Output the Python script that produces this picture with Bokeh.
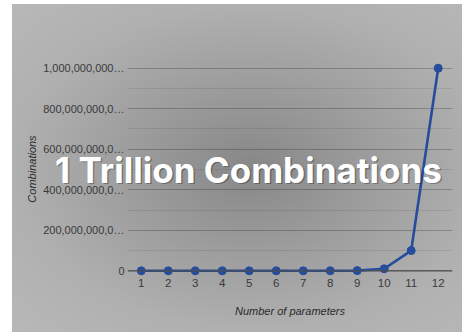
from bokeh.plotting import figure
from bokeh.layouts import row
from bokeh.models import (Range1d, FixedTicker, Span, Label, InlineStyleSheet)
from bokeh.embed import file_html
from bokeh.resources import INLINE

# Number of parameters vs. number of combinations (10 values per parameter)
parameters = [1, 2, 3, 4, 5, 6, 7, 8, 9, 10, 11, 12]
combinations = [10, 100, 1000, 10000, 100000, 1000000, 10000000, 100000000,
                1000000000, 10000000000, 100000000000, 1000000000000]

y_ticks = [0, 200e9, 400e9, 600e9, 800e9, 1000e9]
y_minor = [100e9, 300e9, 500e9, 700e9, 900e9]
y_tick_labels = ["0", "200,000,000,0…", "400,000,000,0…", "600,000,000,0…",
                 "800,000,000,0…", "1,000,000,000…"]

headline = "1 Trillion Combinations"

W, H = 462, 334
LINE_COLOR = "#254d9c"
TEXT_COLOR = "#3a3a3a"
FONT = "Liberation Sans"

p = figure(width=W, height=H, output_backend="svg", toolbar_location=None,
           x_range=Range1d(0.49, 12.53), y_range=Range1d(-0.033e12, 1.038e12),
           min_border_left=127, min_border_right=10,
           min_border_top=60, min_border_bottom=57)

p.background_fill_color = None
p.border_fill_color = None
p.outline_line_color = None
p.stylesheets = [InlineStyleSheet(css=(
    ":host { background: radial-gradient(ellipse farthest-corner at 53% 50%, "
    "#878787 0%, #9c9c9c 35%, #b0b0b0 70%, #b8b8b8 100%) 12px 4px / 450px 328px no-repeat, #ffffff; }"
))]

# x axis
p.xaxis.ticker = FixedTicker(ticks=parameters)
p.xaxis.axis_label = "Number of parameters"
p.xaxis.axis_label_text_font = FONT
p.xaxis.axis_label_text_font_style = "italic"
p.xaxis.axis_label_text_font_size = "11px"
p.xaxis.axis_label_text_color = "#2a2a2a"
p.xaxis.axis_label_standoff = 15
p.xaxis.major_label_text_font = FONT
p.xaxis.major_label_text_font_size = "11.5px"
p.xaxis.major_label_text_color = TEXT_COLOR
p.xaxis.major_label_standoff = 1
p.xaxis.axis_line_color = None
p.xaxis.major_tick_line_color = None
p.xaxis.minor_tick_line_color = None
p.xaxis.major_tick_out = 0
p.xaxis.major_tick_in = 0
p.xaxis.minor_tick_out = 0

# y axis
p.yaxis.ticker = FixedTicker(ticks=y_ticks, minor_ticks=y_minor)
p.yaxis.major_label_overrides = {t: s for t, s in zip(y_ticks, y_tick_labels)}
p.yaxis.axis_label = "Combinations"
p.yaxis.axis_label_text_font = FONT
p.yaxis.axis_label_text_font_style = "italic"
p.yaxis.axis_label_text_font_size = "11px"
p.yaxis.axis_label_text_color = "#2a2a2a"
p.yaxis.axis_label_standoff = 2
p.yaxis.major_label_text_font = FONT
p.yaxis.major_label_text_font_size = "11px"
p.yaxis.major_label_text_color = TEXT_COLOR
p.yaxis.major_label_standoff = 3
p.yaxis.axis_line_color = None
p.yaxis.major_tick_line_color = None
p.yaxis.minor_tick_line_color = None
p.yaxis.major_tick_out = 0
p.yaxis.major_tick_in = 0
p.yaxis.minor_tick_out = 0

# grid
p.xgrid.grid_line_color = None
p.ygrid.grid_line_color = "#000000"
p.ygrid.grid_line_alpha = 0.22
p.ygrid.minor_grid_line_color = "#000000"
p.ygrid.minor_grid_line_alpha = 0.08

# baseline at zero
p.add_layout(Span(location=0, dimension="width", line_color="#4e4e4e", line_width=1.2))

p.line(parameters, combinations, line_color=LINE_COLOR, line_width=2.6)
p.scatter(parameters, combinations, size=8, fill_color=LINE_COLOR, line_color=LINE_COLOR)

# transparent overlay canvas for the headline, so it can run across the axis area;
# it shares the vertical range of the chart, horizontally it is in canvas pixels
overlay = figure(width=W, height=H, output_backend="svg", toolbar_location=None,
                 x_range=Range1d(0, W), y_range=p.y_range,
                 x_axis_type=None, y_axis_type=None, min_border=0)
overlay.background_fill_color = None
overlay.border_fill_color = None
overlay.outline_line_color = None
overlay.grid.visible = False
overlay.styles = {"margin-left": f"-{W}px"}

shadow = Label(x=248, y=0.5e12, text=headline, text_align="center", text_baseline="middle",
               text_font="Inter", text_font_style="bold", text_font_size="35px",
               text_color="#000000", text_alpha=0.28, x_offset=1.5, y_offset=-1.5)
title = Label(x=248, y=0.5e12, text=headline, text_align="center", text_baseline="middle",
              text_font="Inter", text_font_style="bold", text_font_size="35px",
              text_color="#ffffff")
overlay.add_layout(shadow)
overlay.add_layout(title)

layout = row(p, overlay, spacing=0)

open("out.html", "w").write(file_html(layout, INLINE))
